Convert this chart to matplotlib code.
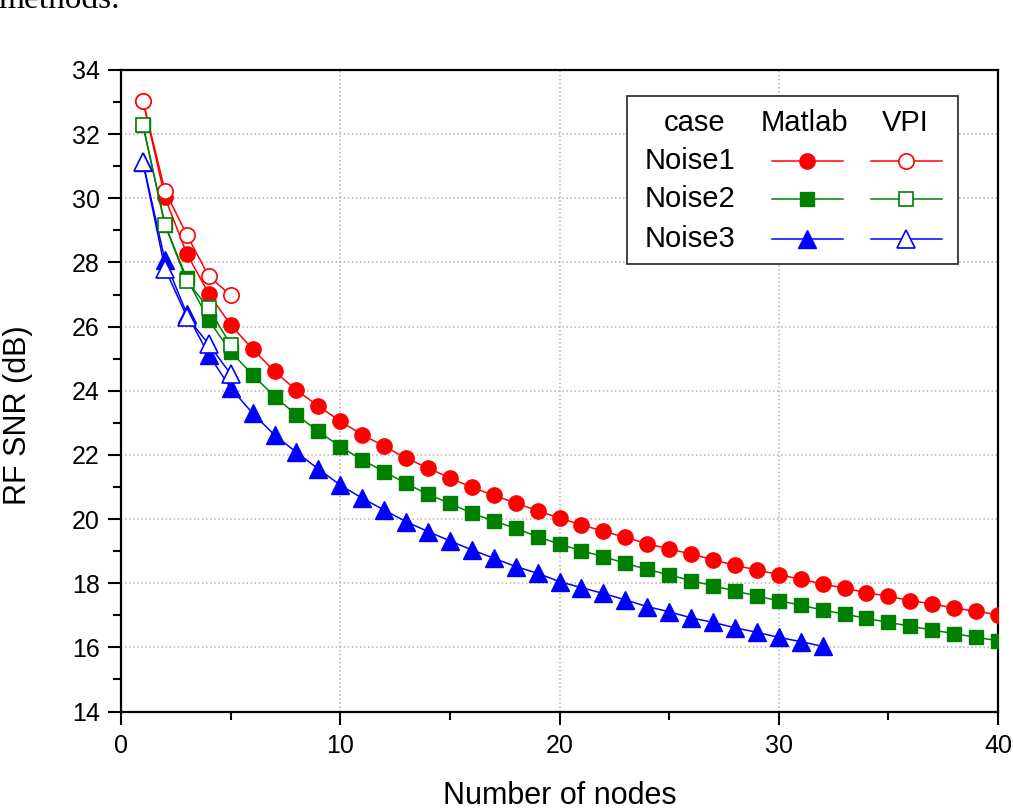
import matplotlib.pyplot as plt
import numpy as np
from matplotlib.patches import Rectangle
from matplotlib.ticker import MultipleLocator

plt.rcParams['font.family'] = ['Liberation Sans', 'DejaVu Sans']

# data
nodes_matlab = np.arange(1, 41)
matlab_noise1 = [33.04, 30.03, 28.27, 27.03, 26.05, 25.30, 24.60, 24.02, 23.52, 23.05,
                 22.63, 22.27, 21.90, 21.59, 21.28, 20.99, 20.74, 20.50, 20.26, 20.03,
                 19.82, 19.62, 19.43, 19.23, 19.07, 18.91, 18.73, 18.56, 18.41, 18.27,
                 18.12, 17.98, 17.84, 17.71, 17.59, 17.46, 17.35, 17.23, 17.12, 17.02]
matlab_noise2 = [32.28, 29.18, 27.50, 26.20, 25.22, 24.50, 23.82, 23.25, 22.73, 22.26,
                 21.84, 21.48, 21.11, 20.77, 20.49, 20.18, 19.94, 19.71, 19.45, 19.22,
                 19.01, 18.83, 18.62, 18.43, 18.26, 18.08, 17.92, 17.76, 17.60, 17.45,
                 17.32, 17.16, 17.04, 16.90, 16.78, 16.66, 16.54, 16.43, 16.31, 16.21]
nodes_noise3 = np.arange(1, 33)
matlab_noise3 = [31.12, 28.07, 26.40, 25.12, 24.08, 23.30, 22.62, 22.08, 21.56, 21.06,
                 20.65, 20.28, 19.92, 19.61, 19.32, 19.04, 18.78, 18.52, 18.31, 18.05,
                 17.86, 17.68, 17.48, 17.27, 17.11, 16.92, 16.78, 16.61, 16.47, 16.31,
                 16.18, 16.03]

nodes_vpi = [1, 2, 3, 4, 5]
vpi_noise1 = [33.04, 30.24, 28.86, 27.57, 26.98]
vpi_noise2 = [32.28, 29.18, 27.42, 26.57, 25.43]
vpi_noise3 = [31.12, 27.81, 26.31, 25.45, 24.52]

cases = ['Noise1', 'Noise2', 'Noise3']
colors = ['#ff0000', '#008000', '#0000ff']
markers = ['o', 's', '^']
msizes = [11, 10, 13.5]

fig = plt.figure(figsize=(10.13, 8.1), dpi=100)
ax = fig.add_axes([0.1195, 0.1216, 0.8657, 0.792])

matlab = [(nodes_matlab, matlab_noise1), (nodes_matlab, matlab_noise2),
          (nodes_noise3, matlab_noise3)]
vpi = [vpi_noise1, vpi_noise2, vpi_noise3]

for (xs, ys), c, m, ms in zip(matlab, colors, markers, msizes):
    ax.plot(xs, ys, color=c, lw=1.1, marker=m, ms=ms, mfc=c, mec=c, zorder=3)
for ys, c, m, ms in zip(vpi, colors, markers, msizes):
    ax.plot(nodes_vpi, ys, color=c, lw=1.1, marker=m, ms=ms, mfc='white',
            mec=c, mew=1.2, zorder=4)

ax.set_xlim(0, 40)
ax.set_ylim(14, 34)
ax.xaxis.set_major_locator(MultipleLocator(10))
ax.xaxis.set_minor_locator(MultipleLocator(5))
ax.yaxis.set_major_locator(MultipleLocator(2))
ax.yaxis.set_minor_locator(MultipleLocator(1))
ax.tick_params(which='major', direction='out', length=9.5, width=1.5, labelsize=18, pad=6)
ax.tick_params(which='minor', direction='out', length=5.5, width=1.5)
ax.tick_params(axis='x', which='major', pad=7)
for s in ax.spines.values():
    s.set_linewidth(1.6)
ax.grid(True, which='major', ls=':', color='#b0b0b0', lw=1.1, zorder=0)

ax.set_xlabel('Number of nodes', fontsize=22, va='baseline')
ax.xaxis.set_label_coords(0.5, -0.1442)
ax.set_ylabel('RF SNR (dB)', fontsize=22, va='center')
ax.yaxis.set_label_coords(-0.1174, 0.462)

# table-style legend
tr = ax.transAxes
ax.add_patch(Rectangle((0.5766, 0.6971), 0.3781, 0.2624, transform=tr,
                       facecolor='white', edgecolor='#333333', lw=1.3, zorder=5))
ax.text(0.6545, 0.9169, 'case', transform=tr, fontsize=21, ha='center', va='center', zorder=6)
ax.text(0.7788, 0.9169, 'Matlab', transform=tr, fontsize=21, ha='center', va='center', zorder=6)
ax.text(0.8940, 0.9169, 'VPI', transform=tr, fontsize=21, ha='center', va='center', zorder=6)
row_y = [0.8586, 0.7984, 0.7361]
for name, yy, c, m, ms in zip(cases, row_y, colors, markers, msizes):
    ax.text(0.5975, yy, name, transform=tr, fontsize=21, ha='left', va='center', zorder=6)
    ax.plot([0.742, 0.8236], [yy, yy], transform=tr, color=c, lw=1.1, zorder=6)
    ax.plot([0.7819], [yy], transform=tr, marker=m, ms=ms, color=c, zorder=7)
    ax.plot([0.8548, 0.9358], [yy, yy], transform=tr, color=c, lw=1.1, zorder=6)
    ax.plot([0.8948], [yy], transform=tr, marker=m, ms=ms, mfc='white', mec=c,
            mew=1.2, zorder=7)

# cropped line of the surrounding document
fig.text(-0.002, 1 - 8 / 810, 'methods.', fontsize=24, va='baseline',
         family=['Liberation Serif', 'DejaVu Serif'])

fig.savefig('out.png', dpi=100)
